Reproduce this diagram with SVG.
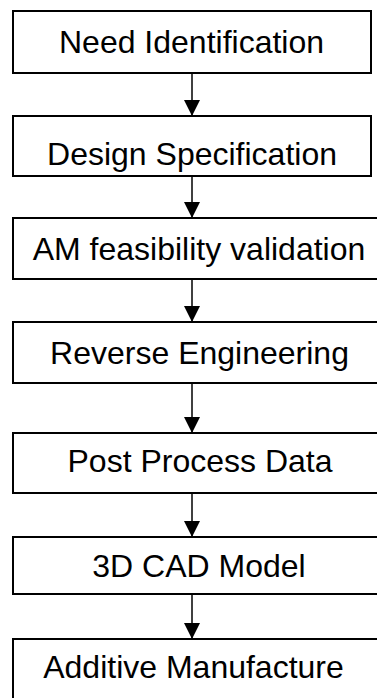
<svg xmlns="http://www.w3.org/2000/svg" width="377" height="698" viewBox="0 0 377 698">
<style>
.box{fill:#fff;stroke:#000;stroke-width:2}
.lbl{font-family:"Liberation Sans",Arial,sans-serif;font-size:32px;fill:#000;text-anchor:middle}
.con{stroke:#000;stroke-width:1.5;fill:none;marker-end:url(#ah)}
</style>
<defs>
<marker id="ah" viewBox="0 0 16 16" refX="16" refY="8" markerWidth="16" markerHeight="16" markerUnits="userSpaceOnUse" orient="auto">
<path d="M0,0 L16,8 L0,16 Z" fill="#000"/>
</marker>
</defs>
<g id="n1"><rect class="box" x="13" y="11" width="358" height="62"/><text class="lbl" x="191.5" y="52.5">Need Identification</text></g>
<g id="n2"><rect class="box" x="13" y="116" width="358" height="60"/><text class="lbl" x="192" y="165">Design Specification</text></g>
<g id="n3"><rect class="box" x="13" y="218" width="374" height="61"/><text class="lbl" x="199" y="260">AM feasibility validation</text></g>
<g id="n4"><rect class="box" x="13" y="322" width="374" height="61"/><text class="lbl" x="199.5" y="363.5">Reverse Engineering</text></g>
<g id="n5"><rect class="box" x="13" y="433" width="374" height="60"/><text class="lbl" x="200" y="471.7">Post Process Data</text></g>
<g id="n6"><rect class="box" x="13" y="537" width="374" height="57"/><text class="lbl" x="199" y="576.7">3D CAD Model</text></g>
<g id="n7"><rect class="box" x="13" y="639" width="374" height="70"/><text class="lbl" x="193.5" y="678">Additive Manufacture</text></g>
<g id="connectors">
<line class="con" x1="192" y1="73" x2="192" y2="116"/>
<line class="con" x1="192" y1="176" x2="192" y2="218"/>
<line class="con" x1="192" y1="279" x2="192" y2="322"/>
<line class="con" x1="192" y1="383" x2="192" y2="433"/>
<line class="con" x1="192" y1="493" x2="192" y2="537"/>
<line class="con" x1="192" y1="594" x2="192" y2="639"/>
</g>
</svg>
